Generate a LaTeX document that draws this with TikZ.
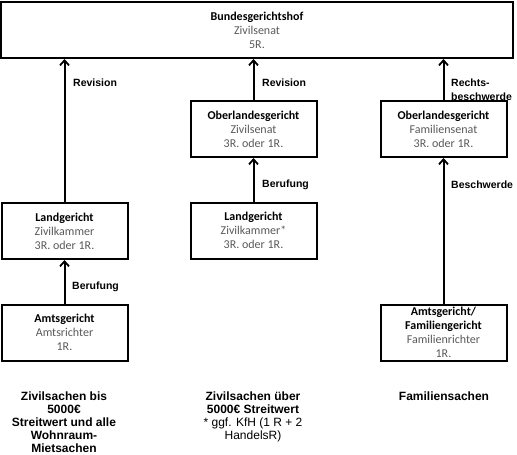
\documentclass[tikz,border=0pt]{standalone}
\usepackage{fontspec}
\setmainfont{Carlito}
\newfontfamily\arial{Liberation Sans}
\usetikzlibrary{arrows.meta}
\definecolor{subgray}{gray}{0.35}
\tikzset{
  court/.style={draw=black, line width=2pt, rectangle, align=center, inner sep=0pt,
    font=\fontsize{12}{14}\selectfont, minimum width=126pt, minimum height=56pt},
  arr/.style={line width=2pt, -{Straight Barb[length=5pt,width=9pt,line width=1.8pt]}},
  elabel/.style={anchor=west, align=left, inner sep=0pt, font=\arial\bfseries\fontsize{10.5}{14}\selectfont},
  bottomtext/.style={align=center, inner sep=0pt, anchor=north, font=\arial\fontsize{12}{13}\selectfont}
}
\newcommand{\sub}[1]{\textcolor{subgray}{#1}}
\begin{document}
\begin{tikzpicture}[x=1pt,y=-1pt]
\useasboundingbox (0,0) rectangle (517,455);
% boxes
\node[court, minimum width=512pt] (bgh) at (257,30) {\textbf{Bundesgerichtshof}\\\sub{Zivilsenat}\\\sub{5R.}};
\node[court] (lg1) at (64.5,231) {\textbf{Landgericht}\\\sub{Zivilkammer}\\\sub{3R. oder 1R.}};
\node[court] (ag1) at (64.5,332.5) {\textbf{Amtsgericht}\\\sub{Amtsrichter}\\\sub{1R.}};
\node[court] (olg2) at (253.5,129) {\textbf{Oberlandesgericht}\\\sub{Zivilsenat}\\\sub{3R. oder 1R.}};
\node[court] (lg2) at (253.5,230.5) {\textbf{Landgericht}\\\sub{Zivilkammer*}\\\sub{3R. oder 1R.}};
\node[court] (olg3) at (443.5,129) {\textbf{Oberlandesgericht}\\\sub{Familiensenat}\\\sub{3R. oder 1R.}};
\node[court] (ag3) at (443.5,332.5) {\textbf{Amtsgericht/}\\\textbf{Familiengericht}\\\sub{Familienrichter}\\\sub{1R.}};
% connectors
\draw[arr] (lg1.north) -- (lg1.north |- bgh.south);
\draw[arr] (ag1.north) -- (lg1.south);
\draw[arr] (olg2.north) -- (olg2.north |- bgh.south);
\draw[arr] (lg2.north) -- (olg2.south);
\draw[arr] (olg3.north) -- (olg3.north |- bgh.south);
\draw[arr] (ag3.north) -- (olg3.south);
% labels
\node[elabel] (l1) at (73,83) {Revision};
\node[elabel] (l2) at (72,287) {Berufung};
\node[elabel] (l3) at (262,83) {Revision};
\node[elabel] (l4) at (262,185) {Berufung};
\node[elabel] (l5) at (451,90) {Rechts-\\beschwerde};
\node[elabel] (l6) at (451,185) {Beschwerde};
% bottom texts
\node[bottomtext] (b1) at (64,392) {\bfseries Zivilsachen bis\\\bfseries 5000€\\\bfseries Streitwert und alle\\\bfseries Wohnraum-\\\bfseries Mietsachen};
\node[bottomtext] (b2) at (253,392) {\bfseries Zivilsachen über\\\bfseries 5000€ Streitwert\\* ggf. KfH (1 R + 2\\HandelsR)};
\node[bottomtext] (b3) at (444,392) {\bfseries Familiensachen};
\end{tikzpicture}
\end{document}
